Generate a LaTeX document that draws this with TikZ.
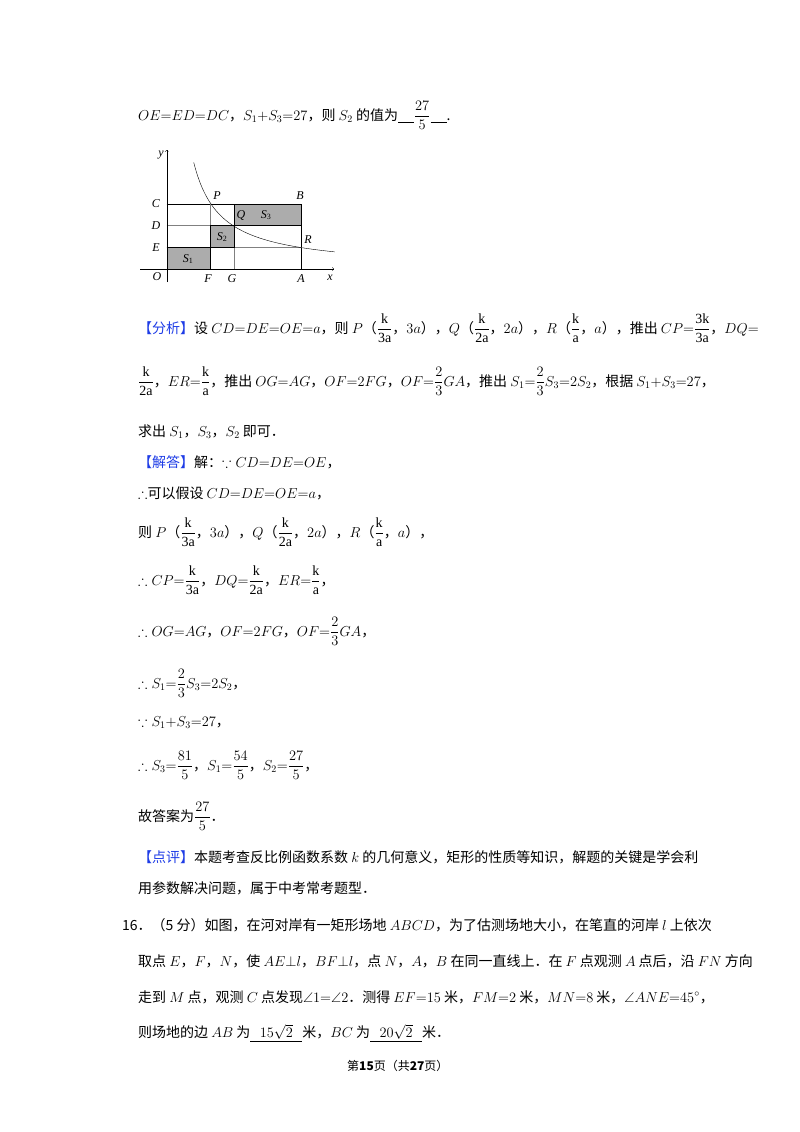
\documentclass[tikz,border=0pt]{standalone}
\usepackage{fontspec}
\usepackage{amsmath,amssymb}
\setmainfont{Noto Sans CJK SC}
\newfontfamily\lserif{Liberation Serif}
\definecolor{tagblue}{RGB}{30,60,230}
\newcommand{\tagb}[1]{{\color{tagblue}【#1】}}
\newcommand{\kf}[1]{\dfrac{\textrm{\lserif k}}{\textrm{\lserif #1}}}
\newcommand{\blank}{\underline{\hspace{16pt}}}
\begin{document}
\begin{tikzpicture}[x=1pt,y=-1pt,
  ln/.style={anchor=base west,inner sep=0pt,font=\fontsize{14}{17}\selectfont},
  lab/.style={inner sep=0pt,font=\lserif\itshape\fontsize{12}{14}\selectfont},
  grid/.style={draw=black,line width=0.9pt},
  shade/.style={fill=gray!65}]
\useasboundingbox (0,0) rectangle (800,1132);
% line 1
\node[ln] (l1) at (138,120) {$OE{=}ED{=}DC$，$S_1{+}S_3{=}27$，则 $S_2$ 的值为\blank$\dfrac{27}{5}$\blank.};
% figure
\fill[shade] (166.7,269) rectangle (210,247.7);
\fill[shade] (210,247.7) rectangle (234.3,225.3);
\fill[shade] (234.3,225.3) rectangle (301.7,204);
\draw[grid] (166.7,204) -- (301.7,204) -- (301.7,269);
\draw[grid,draw=gray] (166.7,225.3) -- (301.7,225.3);
\draw[grid,draw=gray] (166.7,247.7) -- (301.7,247.7);
\draw[grid,draw=gray] (210,269) -- (210,204);
\draw[grid,draw=gray] (234.3,269) -- (234.3,204);
\draw[grid] (166.7,247.7) -- (210,247.7) -- (210,269);
\draw[grid] (210,247.7) rectangle (234.3,225.3);
\draw[grid] (234.3,225.3) -- (301.7,225.3);
\draw[grid] (234.3,204) -- (234.3,225.3);
\draw[thin,->] (140,269) -- (334,269);
\draw[thin,->] (166.7,282) -- (166.7,150);
\draw[thin,domain=27:168,samples=80] plot ({166.7+\x},{269-2880/\x});
\node[lab] (y) at (161,155) {y};
\node[lab] (x) at (330,278) {x};
\node[lab] (C) at (156,204) {C};
\node[lab] (D) at (156,226) {D};
\node[lab] (E) at (156,248) {E};
\node[lab] (O) at (157,277) {O};
\node[lab] (F) at (208,279) {F};
\node[lab] (G) at (232,279) {G};
\node[lab] (A) at (301,279) {A};
\node[lab] (P) at (217,196) {P};
\node[lab] (B) at (300,196) {B};
\node[lab] (Q) at (241,215) {Q};
\node[lab] (R) at (308,240) {R};
\node[lab] (S1) at (188,259) {S\textsubscript{\upshape 1}};
\node[lab] (S2) at (222,237) {S\textsubscript{\upshape 2}};
\node[lab] (S3) at (266,215) {S\textsubscript{\upshape 3}};
% analysis
\node[ln] (l2) at (138,333) {\tagb{分析}设 $CD{=}DE{=}OE{=}a$，则 $P$（$\kf{3a}$，$3a$），$Q$（$\kf{2a}$，$2a$），$R$（$\kf{a}$，$a$），推出 $CP{=}\dfrac{\textrm{\lserif 3k}}{\textrm{\lserif 3a}}$，$DQ{=}$};
\node[ln] (l3) at (138,386) {$\kf{2a}$，$ER{=}\kf{a}$，推出 $OG{=}AG$，$OF{=}2FG$，$OF{=}\dfrac{2}{3}GA$，推出 $S_1{=}\dfrac{2}{3}S_3{=}2S_2$，根据 $S_1{+}S_3{=}27$，};
\node[ln] (l4) at (138,436) {求出 $S_1$，$S_3$，$S_2$ 即可．};
\node[ln] (l5) at (138,467) {\tagb{解答}解：$\because CD{=}DE{=}OE$，};
\node[ln] (l6) at (138,498) {$\therefore$可以假设 $CD{=}DE{=}OE{=}a$，};
\node[ln] (l7) at (138,537) {则 $P$（$\kf{3a}$，$3a$），$Q$（$\kf{2a}$，$2a$），$R$（$\kf{a}$，$a$），};
\node[ln] (l8) at (138,585) {$\therefore CP{=}\kf{3a}$，$DQ{=}\kf{2a}$，$ER{=}\kf{a}$，};
\node[ln] (l9) at (138,636) {$\therefore OG{=}AG$，$OF{=}2FG$，$OF{=}\dfrac{2}{3}GA$，};
\node[ln] (l10) at (138,688) {$\therefore S_1{=}\dfrac{2}{3}S_3{=}2S_2$，};
\node[ln] (l11) at (138,726) {$\because S_1{+}S_3{=}27$，};
\node[ln] (l12) at (138,770) {$\therefore S_3{=}\dfrac{81}{5}$，$S_1{=}\dfrac{54}{5}$，$S_2{=}\dfrac{27}{5}$，};
\node[ln] (l13) at (138,821) {故答案为$\dfrac{27}{5}$．};
\node[ln] (l14) at (138,862) {\tagb{点评}本题考查反比例函数系数 $k$ 的几何意义，矩形的性质等知识，解题的关键是学会利};
\node[ln] (l15) at (138,893) {用参数解决问题，属于中考常考题型．};
\node[ln] (l16) at (122,930) {16．（5 分）如图，在河对岸有一矩形场地 $ABCD$，为了估测场地大小，在笔直的河岸 $l$ 上依次};
\node[ln] (l17) at (138,966) {取点 $E$，$F$，$N$，使 $AE{\perp}l$，$BF{\perp}l$，点 $N$，$A$，$B$ 在同一直线上．在 $F$ 点观测 $A$ 点后，沿 $FN$ 方向};
\node[ln] (l18) at (138,1002) {走到 $M$ 点，观测 $C$ 点发现$\angle 1{=}\angle 2$．测得 $EF{=}15$ 米，$FM{=}2$ 米，$MN{=}8$ 米，$\angle ANE{=}45^\circ$，};
\node[ln] (l19) at (138,1037) {则场地的边 $AB$ 为\underline{\ \ \ $15\sqrt{2}$\ \ \ }米，$BC$ 为\underline{\ \ \ $20\sqrt{2}$\ \ \ }米．};
\node[ln,font=\fontsize{12}{14}\selectfont] (foot) at (347,1070) {第\textbf{15}页（共\textbf{27}页）};
\end{tikzpicture}
\end{document}
